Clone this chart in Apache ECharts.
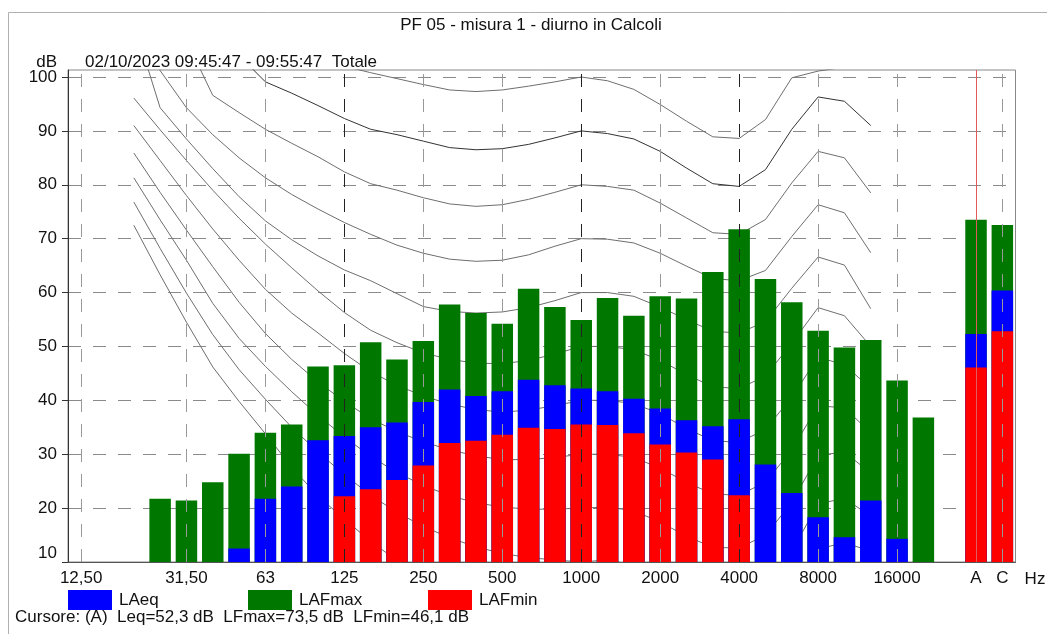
<!DOCTYPE html>
<html><head><meta charset="utf-8">
<script src="https://cdn.jsdelivr.net/npm/echarts@6/dist/echarts.min.js"></script>
<style>html,body{margin:0;padding:0;background:#fff}#c{width:1047px;height:634px}</style>
</head><body><div id="c"></div>
<script>
// ---------- data ----------
const categories = ['12,50','16','20','25','31,50','40','50','63','80','100','125','160','200','250','315','400','500','630','800','1000','1250','1600','2000','2500','3150','4000','5000','6300','8000','10000','12500','16000','20000',' ','A','C'];
const labeledCategories = ['12,50','31,50','63','125','250','500','1000','2000','4000','8000','16000','A','C'];
const darkGridCategories = ['125','1000','4000'];
const yTicks = [10,20,30,40,50,60,70,80,90,100];

const LAFmax = [null,null,null,21.75,21.4,24.8,30.1,34.0,35.5,46.3,46.5,50.8,47.6,51.0,57.8,56.2,54.2,60.7,57.3,54.9,59.0,55.7,59.3,58.9,63.8,71.75,62.5,58.2,52.9,49.8,51.2,43.7,36.8,null,73.5,72.55];
const LAeq   = [null,null,null,null,null,null,12.5,21.75,24.0,32.6,33.4,35.0,35.9,39.7,42.0,40.8,41.7,43.8,42.8,42.2,41.7,40.3,38.5,36.3,35.2,36.5,28.1,22.8,18.3,14.6,21.4,14.3,null,null,52.3,60.4];
const LAFmin = [null,null,null,null,null,null,null,null,null,null,22.2,23.5,25.2,27.9,32.1,32.5,33.6,34.9,34.7,35.5,35.4,33.9,31.8,30.3,29.0,22.4,null,null,null,null,null,null,null,null,46.1,52.8];

// equal-loudness curves, bands 20 Hz .. 12500 Hz
const curveBands = ['20','25','31,50','40','50','63','80','100','125','160','200','250','315','400','500','630','800','1000','1250','1600','2000','2500','3150','4000','5000','6300','8000','10000','12500'];
const curveThr = [72.5,63.3,54.5,46.2,39.8,33.8,27.6,22.2,18.0,13.8,10.3,7.5,5.3,3.8,2.8,2.2,2.0,2.4,3.0,1.6,-1.0,-3.5,-5.0,-4.6,-1.0,5.2,12.4,13.6,12.0];
const curve10  = [76.8,68.2,59.9,52.2,45.7,40.2,35.0,30.4,26.2,22.4,19.2,16.6,14.5,12.8,11.6,10.8,10.4,10.0,10.4,9.4,7.0,4.5,2.7,2.8,5.6,12.0,20.8,21.8,18.5];
const curve20  = [81.3,73.5,66.0,58.0,51.5,46.3,41.6,37.2,33.2,29.6,26.6,24.2,22.3,21.0,20.2,19.8,19.8,20.0,20.2,19.5,17.4,14.8,12.7,12.6,15.0,21.0,29.8,30.4,26.5];
const curve30  = [85.9,78.6,71.6,64.8,58.2,52.4,47.6,43.4,39.8,36.6,34.2,32.3,30.8,29.7,29.0,29.0,29.4,30.0,30.0,29.4,27.4,24.8,22.6,22.4,24.8,30.8,39.0,38.6,34.0];
const curve40  = [91.0,84.5,78.0,71.8,66.0,60.6,56.2,52.5,48.7,45.3,42.8,40.8,39.3,38.3,37.8,38.2,39.0,40.0,40.0,39.4,37.5,34.8,32.5,32.2,34.6,40.6,48.0,46.6,42.2];
const curve50  = [96.1,90.2,84.5,79.0,73.8,69.0,64.6,60.3,56.3,53.0,50.7,48.8,47.6,46.9,46.8,47.4,48.6,50.0,50.0,49.4,47.4,44.8,42.5,42.2,44.5,50.6,57.2,55.7,50.0];
const curve60  = [110.0,94.3,88.5,83.0,77.8,73.3,69.8,66.8,64.2,62.2,59.8,57.4,56.5,56.2,56.4,57.2,58.5,60.0,60.0,59.3,57.3,55.0,52.8,52.5,54.6,60.8,66.6,65.1,57.0];
const curve70  = [120.0,101.2,94.3,89.3,85.0,81.3,78.2,75.5,73.0,70.8,68.8,67.3,66.2,65.8,66.0,67.0,68.6,70.0,69.9,69.2,67.3,64.9,62.6,62.2,64.1,70.4,76.3,74.8,67.4];
const curve80  = [125.0,115.0,106.8,96.6,93.4,90.3,87.7,85.2,82.4,80.2,79.0,77.6,76.45,76.0,76.3,77.3,78.6,80.0,79.7,79.0,76.6,73.85,71.1,70.8,73.55,80.35,86.2,85.0,78.5];
const curve90  = [130.0,123.0,116.0,109.5,104.0,99.1,97.0,94.7,92.3,90.3,89.3,88.1,86.9,86.5,86.7,87.5,88.7,90.0,89.5,88.5,86.2,83.1,80.2,79.7,82.8,90.3,96.3,95.5,91.0];
const curve100 = [135.0,130.0,125.0,120.0,115.0,111.0,107.5,104.8,102.0,100.8,99.7,98.6,97.6,97.3,97.6,98.3,99.1,100.0,99.3,97.7,94.9,91.8,88.9,88.6,92.1,99.85,101.1,101.8,103.0];

// ---------- chart ----------
const FONT = '"Liberation Sans", Arial, Helvetica, sans-serif';
const chart = echarts.init(document.getElementById('c'), null, {renderer:'canvas'});
const labeledIdx = new Set(labeledCategories.map(c => categories.indexOf(c)));

const curves = [curveThr, curve10, curve20, curve30, curve40, curve50, curve60, curve70, curve80, curve90, curve100];
const curveSeries = curves.map((vals, k) => ({
  type: 'line',
  data: curveBands.map((b, i) => [b, vals[i]]),
  symbol: 'none',
  silent: true,
  clip: true,
  z: 1,
  lineStyle: {color: k === 9 ? '#333' : '#6e6e6e', width: 1},
  emphasis: {disabled: true},
  animation: false
}));

const vGrid = labeledCategories.filter(c => c !== 'A').map(c => ({
  xAxis: c,
  lineStyle: {color: darkGridCategories.includes(c) ? '#222' : '#999', type: [13, 12], width: 1}
}));
curveSeries[0].markLine = {
  silent: true, symbol: ['none','none'], label: {show: false}, animation: false,
  data: vGrid
};

const barBase = {type: 'bar', barWidth: 21.5, barGap: '-100%', silent: true, animation: false};

const option = {
  animation: false,
  grid: {left: 68, right: 31.5, top: 70, bottom: 72, show: true, borderColor: '#888', borderWidth: 1, backgroundColor: 'transparent'},
  xAxis: {
    type: 'category', data: categories, boundaryGap: true,
    axisLine: {lineStyle: {color: '#555'}},
    axisTick: {show: false},
    axisLabel: {interval: (i) => labeledIdx.has(i), fontSize: 17, color: '#111', fontFamily: FONT, margin: 8},
    splitLine: {show: false}
  },
  yAxis: {
    type: 'value', min: 10, max: 101.3, interval: 10,
    axisLine: {show: true, lineStyle: {color: '#333'}},
    axisTick: {show: true, length: 6, lineStyle: {color: '#333'}, customValues: yTicks},
    axisLabel: {
      customValues: yTicks, fontSize: 17, color: '#111', fontFamily: FONT, margin: 11,
      formatter: v => v === 10 ? '{low|10}' : String(v),
      rich: {low: {fontSize: 17, color: '#111', fontFamily: FONT, padding: [0, 0, 18, 0]}}
    },
    splitLine: {show: true, lineStyle: {color: '#8a8a8a', type: [13, 12], width: 1}}
  },
  legend: [
    {data: ['LAeq'], left: 68, top: 590},
    {data: ['LAFmax'], left: 248, top: 590},
    {data: ['LAFmin'], left: 428, top: 590}
  ].map(l => Object.assign(l, {padding: 0, icon: 'rect', itemWidth: 44, itemHeight: 20, selectedMode: false,
      textStyle: {fontSize: 17, color: '#111', fontFamily: FONT, padding: [0, 0, 0, 2]}})),
  series: [
    ...curveSeries,
    Object.assign({}, barBase, {name: 'LAFmax', data: LAFmax, itemStyle: {color: '#007800'}, z: 2}),
    Object.assign({}, barBase, {name: 'LAeq', data: LAeq, itemStyle: {color: '#0000ff'}, z: 3}),
    Object.assign({}, barBase, {name: 'LAFmin', data: LAFmin, itemStyle: {color: '#ff0000'}, z: 4,
      markLine: {silent: true, symbol: ['none','none'], label: {show: false}, animation: false,
        data: [{xAxis: 'A', lineStyle: {color: '#e05a5a', type: 'solid', width: 1}}]}})
  ],
  graphic: [
    {type: 'rect', shape: {x: 8.5, y: 12.5, width: 1100, height: 700}, style: {fill: 'none', stroke: '#b0b0b0', lineWidth: 1}, silent: true},
    {type: 'text', x: 531, y: 25, style: {text: 'PF 05 - misura 1 - diurno in Calcoli', font: '17px ' + FONT, fill: '#111', textAlign: 'center', textVerticalAlign: 'middle'}},
    {type: 'text', x: 57, y: 62, style: {text: 'dB', font: '17px ' + FONT, fill: '#111', textAlign: 'right', textVerticalAlign: 'middle'}},
    {type: 'text', x: 85, y: 62, style: {text: '02/10/2023 09:45:47 - 09:55:47  Totale', font: '17px ' + FONT, fill: '#111', textAlign: 'left', textVerticalAlign: 'middle'}},
    {type: 'text', x: 1035, y: 579, style: {text: 'Hz', font: '17px ' + FONT, fill: '#111', textAlign: 'center', textVerticalAlign: 'middle'}},
    {type: 'text', x: 15, y: 617, style: {text: 'Cursore: (A)  Leq=52,3 dB  LFmax=73,5 dB  LFmin=46,1 dB', font: '17px ' + FONT, fill: '#111', textAlign: 'left', textVerticalAlign: 'middle'}}
  ]
};
chart.setOption(option);
</script>
</body></html>
